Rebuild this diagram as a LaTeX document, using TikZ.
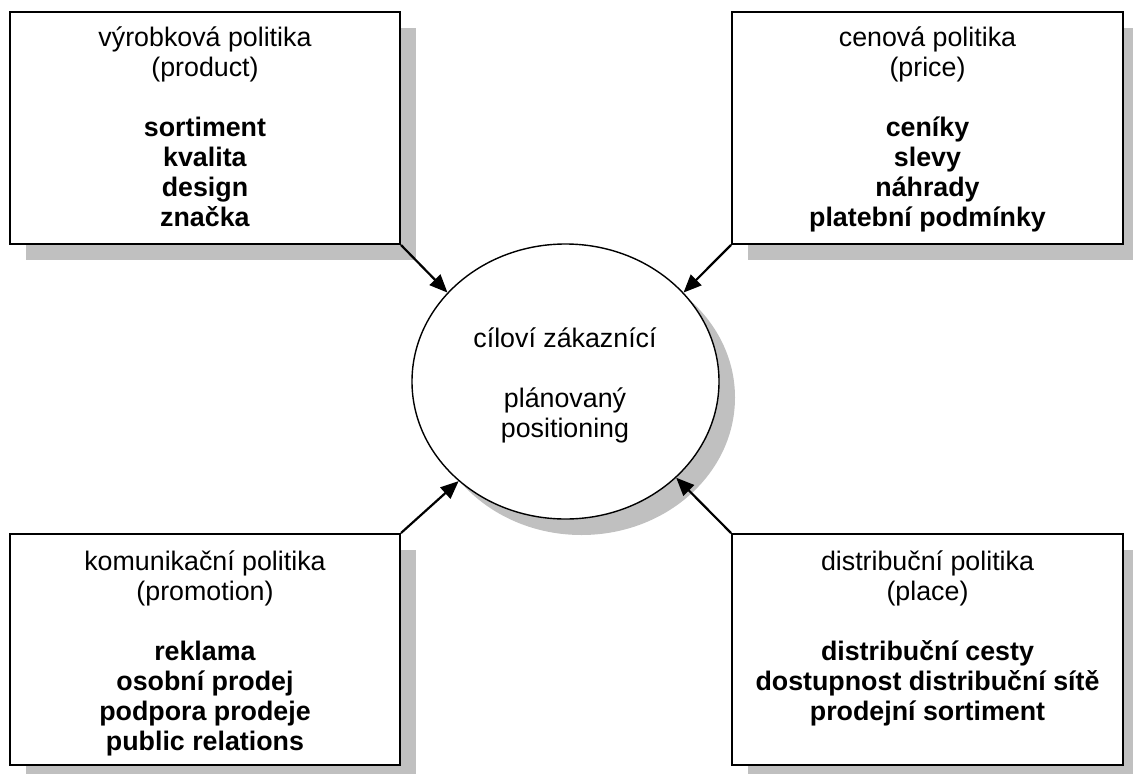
\documentclass[tikz,border=0pt]{standalone}
\usepackage{fontspec}
\setmainfont{Liberation Sans}
\usetikzlibrary{arrows.meta,shadows,shapes.geometric}
\definecolor{shadowgray}{HTML}{C0C0C0}
\tikzset{
  box/.style={draw, line width=2pt, fill=white, rectangle, inner sep=0pt,
    drop shadow={shadow xshift=16pt, shadow yshift=-16pt, fill=shadowgray, opacity=1}},
  target/.style={draw, line width=1.4pt, fill=white, ellipse, inner sep=0pt,
    minimum width=307pt, minimum height=275pt,
    drop shadow={shadow xshift=16pt, shadow yshift=-16pt, fill=shadowgray, opacity=1}},
  txt/.style={align=center, inner sep=0pt, anchor=north, font=\fontsize{26.8}{30}\selectfont},
  arr/.style={line width=2.2pt, -{Triangle[length=18pt, width=15pt]}}
}
\begin{document}
\begin{tikzpicture}[x=1pt, y=-1pt]
\useasboundingbox (0,0) rectangle (1133,774);
% boxes
\node[box, minimum width=390pt, minimum height=232pt] (prod) at (205,128) {};
\node[box, minimum width=391pt, minimum height=232pt] (price) at (927.5,128) {};
\node[box, minimum width=390pt, minimum height=231pt] (prom) at (205,649.5) {};
\node[box, minimum width=391pt, minimum height=231pt] (place) at (927.5,649.5) {};
% centre
\node[target] (goal) at (565.5,381.5) {};
% texts
\node[txt] (tprod) at (205,20) {\rule{0pt}{26pt}výrobková politika\\(product)\\[30pt]
  \textbf{sortiment}\\\textbf{kvalita}\\\textbf{design}\\\textbf{značka}};
\node[txt] (tprice) at (927.5,20) {\rule{0pt}{26pt}cenová politika\\(price)\\[30pt]
  \textbf{ceníky}\\\textbf{slevy}\\\textbf{náhrady}\\\textbf{platební podmínky}};
\node[txt] (tprom) at (205,544) {\rule{0pt}{26pt}komunikační politika\\(promotion)\\[30pt]
  \textbf{reklama}\\\textbf{osobní prodej}\\\textbf{podpora prodeje}\\\textbf{public relations}};
\node[txt] (tplace) at (927.5,544) {\rule{0pt}{26pt}distribuční politika\\(place)\\[30pt]
  \textbf{distribuční cesty}\\\textbf{dostupnost distribuční sítě}\\\textbf{prodejní sortiment}};
\node[txt] (tgoal) at (565,321) {\rule{0pt}{26pt}cíloví zákaznící\\[30pt]plánovaný\\positioning};
% arrows
\draw[arr] (prod.south east) -- (goal.143);
\draw[arr] (price.south west) -- (goal.37);
\draw[arr] (prom.north east) -- (goal.223.6);
\draw[arr] (place.north west) -- (goal.319.2);
\end{tikzpicture}
\end{document}
